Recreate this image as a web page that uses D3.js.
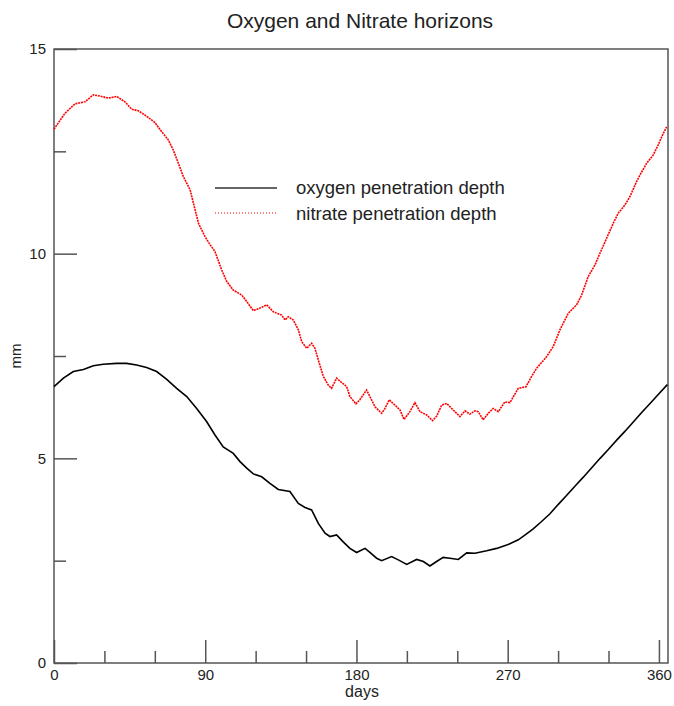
<!DOCTYPE html>
<meta charset="utf-8">
<html>
<head>
<script src="https://d3js.org/d3.v7.min.js" charset="utf-8"></script>
<style>
body { margin: 0; background: #fff; }
svg text { font-family: "Liberation Sans", Arial, sans-serif; fill: #222; }
.axis path, .axis line { stroke: #555; stroke-width: 1.5; }
.axis text { font-size: 15px; }
</style>
</head>
<body>
<svg width="674" height="706"></svg>
<script type="text/javascript">
// values (day, mm)
var nitrateDays = [0, 6.5, 12.5, 18.4, 23.4, 27.4, 32.3, 37.3, 42.2, 46.2, 50.2, 55.1, 60.1, 64.1, 68, 71, 74, 77, 81, 83, 86, 89.8, 92.4, 95.8, 99.8, 102.8, 106.7, 111.7, 114.7, 118.6, 122.6, 126.6, 130.5, 135.5, 137.5, 139.4, 142.4, 145.4, 147.4, 150.4, 153.3, 155.3, 157.3, 160.3, 163.2, 165.2, 168.2, 171.2, 174.2, 176.1, 179.7, 182, 186, 191, 195, 197, 199.5, 203.9, 205.9, 208.3, 211.8, 214.8, 217.8, 221.8, 225.3, 227.7, 230.7, 233.7, 237.6, 241.6, 244.6, 247.5, 250.5, 252.5, 255.4, 258.4, 261.4, 264.4, 268.3, 271.3, 276.3, 280.9, 284.2, 287.2, 293.1, 297.1, 301.1, 306, 311, 314, 317.9, 321.9, 324.9, 328.9, 332.8, 335.8, 339.8, 342.7, 346.7, 348.7, 352.7, 356.6, 359.6, 362.6, 364.6];
var nitrateDepth = [13.04, 13.43, 13.66, 13.71, 13.88, 13.85, 13.80, 13.84, 13.71, 13.53, 13.49, 13.36, 13.20, 12.98, 12.78, 12.53, 12.21, 11.88, 11.56, 11.23, 10.74, 10.42, 10.25, 10.05, 9.60, 9.32, 9.11, 8.99, 8.83, 8.61, 8.67, 8.75, 8.58, 8.50, 8.38, 8.46, 8.38, 8.14, 7.85, 7.69, 7.81, 7.69, 7.40, 7.00, 6.79, 6.71, 6.96, 6.85, 6.75, 6.51, 6.33, 6.43, 6.67, 6.26, 6.10, 6.22, 6.43, 6.26, 6.18, 5.95, 6.14, 6.36, 6.14, 6.06, 5.92, 6.03, 6.30, 6.34, 6.18, 6.02, 6.16, 6.08, 6.16, 6.14, 5.94, 6.10, 6.22, 6.14, 6.38, 6.36, 6.71, 6.75, 7.00, 7.20, 7.48, 7.73, 8.14, 8.54, 8.75, 8.99, 9.44, 9.72, 10.01, 10.38, 10.74, 10.99, 11.19, 11.39, 11.76, 11.92, 12.21, 12.41, 12.66, 12.94, 13.10];

var oxygenDays = [0, 5.6, 11.5, 17.5, 23.4, 29.3, 37.3, 43.2, 49.2, 55.1, 61.1, 67.1, 73, 79, 84.9, 90.8, 95.8, 100.7, 106.7, 110.7, 114.7, 118.6, 123.6, 128.5, 133.5, 140.4, 145.4, 149.4, 153.3, 157.3, 161.3, 164.2, 168.2, 172.1, 176.1, 180.1, 185.1, 188, 192, 195, 200.9, 204.9, 209.9, 215.8, 219.8, 223.7, 227.7, 231.6, 235.6, 240.6, 245.6, 250.5, 257.5, 263.4, 269.4, 276.3, 280, 285, 290, 295, 300, 305, 310, 315, 320, 325, 330, 335, 340, 345, 350, 355, 360, 365];
var oxygenDepth = [6.75, 6.96, 7.12, 7.17, 7.26, 7.30, 7.32, 7.32, 7.28, 7.22, 7.12, 6.93, 6.71, 6.51, 6.22, 5.90, 5.57, 5.28, 5.12, 4.92, 4.76, 4.62, 4.55, 4.39, 4.24, 4.19, 3.90, 3.80, 3.74, 3.41, 3.17, 3.09, 3.13, 2.96, 2.80, 2.70, 2.80, 2.70, 2.56, 2.50, 2.60, 2.52, 2.41, 2.53, 2.48, 2.37, 2.48, 2.58, 2.56, 2.53, 2.69, 2.68, 2.74, 2.80, 2.88, 3.01, 3.12, 3.27, 3.45, 3.64, 3.87, 4.09, 4.32, 4.54, 4.77, 5.00, 5.22, 5.45, 5.67, 5.90, 6.13, 6.35, 6.58, 6.80];

var xMajor = [0, 90, 180, 270, 360];
var xMinor = [30, 60, 120, 150, 210, 240, 300, 330];
var yMajor = [0, 5, 10, 15];
var yMinor = [2.5, 7.5, 12.5];

var svg = d3.select("svg"),
    margin = {top: 49, right: 6, bottom: 43, left: 54},
    width = +svg.attr("width") - margin.left - margin.right,
    height = +svg.attr("height") - margin.top - margin.bottom,
    g = svg.append("g").attr("transform", "translate(" + margin.left + "," + margin.top + ")");

var x = d3.scaleLinear().domain([0, 365.4]).range([0, width]);
var y = d3.scaleLinear().domain([0, 15]).range([height, 0]);

// frame
g.append("rect")
    .attr("width", width)
    .attr("height", height)
    .attr("fill", "none")
    .attr("stroke", "#555")
    .attr("stroke-width", 1.5);

// minor ticks first, then labelled ones
g.append("g")
    .attr("class", "axis")
    .attr("transform", "translate(0," + height + ")")
    .call(d3.axisBottom(x).tickValues(xMinor).tickSize(-12).tickFormat(""));
g.append("g")
    .attr("class", "axis axis--x")
    .attr("transform", "translate(0," + height + ")")
    .call(d3.axisBottom(x).tickValues(xMajor).tickSize(-23).tickPadding(6).tickFormat(d3.format("d")));
g.append("g")
    .attr("class", "axis")
    .call(d3.axisLeft(y).tickValues(yMinor).tickSize(-12).tickFormat(""));
g.append("g")
    .attr("class", "axis axis--y")
    .call(d3.axisLeft(y).tickValues(yMajor).tickSize(-23).tickPadding(8).tickFormat(d3.format("d")));
g.selectAll(".axis .domain").remove();

var line = d3.line()
    .x(function(d) { return x(d[0]); })
    .y(function(d) { return y(d[1]); });

var nitrate = d3.zip(nitrateDays, nitrateDepth);
var oxygen = d3.zip(oxygenDays, oxygenDepth);

g.append("path")
    .datum(oxygen)
    .attr("fill", "none")
    .attr("stroke", "#000")
    .attr("stroke-width", 1.6)
    .attr("d", line);

g.append("path")
    .datum(nitrate)
    .attr("fill", "none")
    .attr("stroke", "#f00")
    .attr("stroke-width", 1.6)
    .attr("stroke-dasharray", "2,0.8")
    .attr("d", line);

// legend
var legend = svg.append("g");
legend.append("line")
    .attr("x1", 215).attr("x2", 277).attr("y1", 188).attr("y2", 188)
    .attr("stroke", "#333").attr("stroke-width", 1.5);
legend.append("line")
    .attr("x1", 215).attr("x2", 277).attr("y1", 213).attr("y2", 213)
    .attr("stroke", "#f00").attr("stroke-width", 1.2).attr("stroke-dasharray", "1,2");
legend.append("text")
    .attr("x", 296).attr("y", 194)
    .style("font-size", "18.5px")
    .text("oxygen penetration depth");
legend.append("text")
    .attr("x", 296).attr("y", 220)
    .style("font-size", "18.5px")
    .text("nitrate penetration depth");

// titles
svg.append("text")
    .attr("x", 360)
    .attr("y", 28)
    .attr("text-anchor", "middle")
    .style("font-size", "21px")
    .text("Oxygen and Nitrate horizons");

svg.append("text")
    .attr("x", 362)
    .attr("y", 697)
    .attr("text-anchor", "middle")
    .style("font-size", "16px")
    .text("days");

svg.append("text")
    .attr("transform", "translate(21,356) rotate(-90)")
    .attr("text-anchor", "middle")
    .style("font-size", "15px")
    .text("mm");
</script>
</body>
</html>
